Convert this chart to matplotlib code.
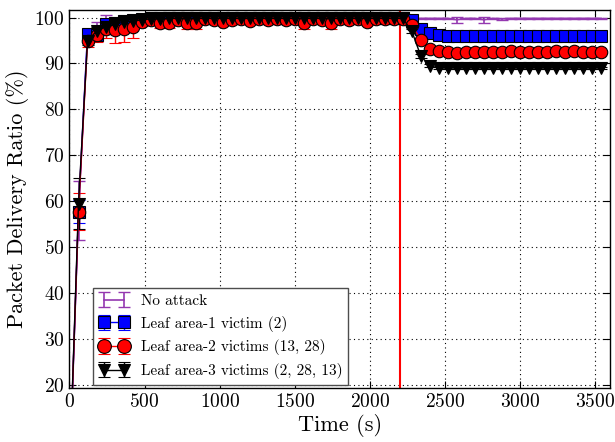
import numpy as np
import matplotlib
matplotlib.use('Agg')
from matplotlib import pyplot as plt

# sampling times (s)
time = list(range(0, 3600, 60))
attack_time = 2200

# packet delivery ratio (%) per scenario
no_attack = [0, 58.0, 96.0, 97.5, 98.5, 99.2, 99.5, 99.6, 99.7, 99.8,
             99.8, 99.8, 99.9, 99.8, 99.9, 99.9, 99.8, 99.9, 99.9, 99.8,
             99.9, 99.9, 99.9, 99.8, 99.9, 99.9, 99.9, 99.8, 99.9, 99.9,
             99.9, 99.9, 99.8, 99.9, 99.9, 99.9, 99.9, 99.9, 99.8, 99.8,
             99.8, 99.8, 99.8, 99.5, 99.8, 99.8, 99.5, 99.8, 99.7, 99.8,
             99.8, 99.8, 99.8, 99.8, 99.8, 99.8, 99.8, 99.8, 99.8, 99.8]
no_attack_err = [0, 6.5, 1.0, 1.5, 2.0, 0.6, 0.4, 0.3, 0.3, 0.2,
                 0.2, 0.2, 0.1, 0.2, 0.1, 0.1, 0.2, 0.1, 0.1, 0.2,
                 0.1, 0.1, 0.1, 0.2, 0.1, 0.1, 0.1, 0.2, 0.1, 0.1,
                 0.1, 0.1, 0.2, 0.1, 0.1, 0.1, 0.1, 0.1, 0.2, 0.2,
                 0.2, 0.2, 0.2, 0.7, 0.2, 0.2, 0.6, 0.2, 0.3, 0.1,
                 0.1, 0.1, 0.1, 0.1, 0.1, 0.1, 0.1, 0.1, 0.1, 0.1]

one_victim = [0, 57.8, 96.4, 96.2, 98.6, 98.8, 99.3, 99.5, 99.7, 99.8,
              99.8, 99.8, 99.9, 99.8, 99.9, 99.9, 99.8, 99.9, 99.9, 99.8,
              99.9, 99.9, 99.9, 99.8, 99.9, 99.9, 99.9, 99.8, 99.9, 99.9,
              99.9, 99.9, 99.8, 99.9, 99.9, 99.9, 99.9, 99.9, 99.5, 97.4,
              96.6, 96.2, 96.0, 96.0, 96.0, 96.0, 96.0, 96.0, 96.0, 96.0,
              96.0, 96.0, 96.0, 96.0, 96.0, 96.0, 96.0, 96.0, 96.0, 96.0]
one_victim_err = [0, 2.5, 1.0, 1.2, 0.6, 0.5, 0.3, 0.3, 0.2, 0.2,
                  0.2, 0.2, 0.1, 0.2, 0.1, 0.1, 0.2, 0.1, 0.1, 0.2,
                  0.1, 0.1, 0.1, 0.2, 0.1, 0.1, 0.1, 0.2, 0.1, 0.1,
                  0.1, 0.1, 0.2, 0.1, 0.1, 0.1, 0.1, 0.1, 0.3, 0.4,
                  0.3, 0.3, 0.3, 0.3, 0.3, 0.3, 0.3, 0.3, 0.3, 0.3,
                  0.3, 0.3, 0.3, 0.3, 0.3, 0.3, 0.3, 0.3, 0.3, 0.3]

two_victims = [0, 57.8, 94.8, 96.2, 97.6, 97.2, 97.5, 97.9, 99.0, 99.4,
               98.8, 98.8, 99.5, 98.7, 98.7, 99.6, 99.4, 99.1, 99.5, 99.6,
               99.2, 99.6, 99.5, 99.6, 99.5, 99.6, 98.7, 99.6, 99.5, 98.7,
               99.6, 99.5, 99.6, 99.0, 99.6, 99.6, 99.6, 99.6, 98.3, 95.2,
               93.1, 92.8, 92.5, 92.2, 92.6, 92.6, 92.6, 92.6, 92.6, 92.7,
               92.4, 92.6, 92.6, 92.6, 92.7, 92.6, 92.7, 92.6, 92.6, 92.6]
two_victims_err = [0, 4.0, 1.2, 1.5, 2.0, 2.8, 2.9, 2.3, 0.8, 0.5,
                   1.0, 1.0, 0.4, 1.1, 1.1, 0.3, 0.4, 0.6, 0.4, 0.3,
                   0.6, 0.3, 0.4, 0.3, 0.4, 0.3, 1.3, 0.3, 0.4, 1.3,
                   0.3, 0.4, 0.3, 0.7, 0.3, 0.3, 0.3, 0.3, 0.4, 0.4,
                   0.3, 0.3, 0.3, 0.3, 0.3, 0.3, 0.3, 0.3, 0.3, 0.3,
                   0.3, 0.3, 0.3, 0.3, 0.3, 0.3, 0.3, 0.3, 0.3, 0.3]

three_victims = [0, 59.5, 95.0, 97.0, 98.0, 98.5, 99.0, 99.2, 99.5, 99.7,
                 99.7, 99.8, 99.8, 99.8, 99.8, 99.8, 99.8, 99.8, 99.8, 99.8,
                 99.8, 99.8, 99.8, 99.8, 99.8, 99.8, 99.8, 99.8, 99.8, 99.8,
                 99.8, 99.8, 99.8, 99.8, 99.8, 99.8, 99.8, 99.8, 97.0, 91.6,
                 89.5, 89.0, 89.0, 89.0, 89.0, 89.0, 89.0, 89.0, 89.0, 89.0,
                 89.0, 89.0, 89.0, 89.0, 89.0, 89.0, 89.0, 89.0, 89.0, 89.0]
three_victims_err = [0, 5.5, 1.0, 1.0, 0.8, 0.6, 0.4, 0.3, 0.2, 0.2,
                     0.2, 0.2, 0.2, 0.2, 0.2, 0.2, 0.2, 0.2, 0.2, 0.2,
                     0.2, 0.2, 0.2, 0.2, 0.2, 0.2, 0.2, 0.2, 0.2, 0.2,
                     0.2, 0.2, 0.2, 0.2, 0.2, 0.2, 0.2, 0.2, 0.4, 0.4,
                     0.3, 0.3, 0.3, 0.3, 0.3, 0.3, 0.3, 0.3, 0.3, 0.3,
                     0.3, 0.3, 0.3, 0.3, 0.3, 0.3, 0.3, 0.3, 0.3, 0.3]

plt.rcParams['font.family'] = 'cmr10'
plt.rcParams['mathtext.fontset'] = 'cm'
plt.rcParams['axes.formatter.use_mathtext'] = True
plt.rcParams['xtick.direction'] = 'in'
plt.rcParams['ytick.direction'] = 'in'
plt.rcParams['xtick.top'] = True
plt.rcParams['ytick.right'] = True

fig = plt.figure(figsize=(6.15, 4.42), dpi=100)
ax = fig.add_axes([0.113, 0.122, 0.879, 0.855])

ax.errorbar(time, no_attack, yerr=no_attack_err, color='#9438b0', lw=1.2,
            capsize=4, label='No attack')
ax.errorbar(time, one_victim, yerr=one_victim_err, color='blue', lw=1.0,
            marker='s', ms=8.5, mfc='blue', mec='black', mew=0.8,
            capsize=4, label='Leaf area-1 victim (2)')
ax.errorbar(time, two_victims, yerr=two_victims_err, color='red', lw=1.0,
            marker='o', ms=9, mfc='red', mec='black', mew=0.8,
            capsize=4, label='Leaf area-2 victims (13, 28)')
ax.errorbar(time, three_victims, yerr=three_victims_err, color='black', lw=1.0,
            marker='v', ms=8.5, mfc='black', mec='black', mew=0.8,
            capsize=4, label='Leaf area-3 victims (2, 28, 13)')

ax.axvline(attack_time, color='red', lw=1.5)

ax.set_xlim(0, 3600)
ax.set_ylim(19.4, 101.6)
ax.set_xticks(range(0, 3501, 500))
ax.set_yticks(range(20, 101, 10))
ax.grid(True, color='black', linestyle=(0, (1, 3)), linewidth=0.8)
ax.tick_params(labelsize=14, length=5, width=0.8)
for s in ax.spines.values():
    s.set_linewidth(1.0)

ax.set_xlabel('Time (s)', fontsize=16, labelpad=2)
ax.set_ylabel('Packet Delivery Ratio (%)', fontsize=16, labelpad=4)

leg = ax.legend(loc='lower left', bbox_to_anchor=(0.044, 0.008),
                borderaxespad=0, numpoints=2, fontsize=11,
                fancybox=False, handlelength=1.9, handletextpad=0.8,
                labelspacing=0.5, markerscale=1.1, framealpha=1)
leg.get_frame().set_edgecolor('0.3')
leg.get_frame().set_linewidth(1.0)

fig.savefig('out.png', dpi=100)
